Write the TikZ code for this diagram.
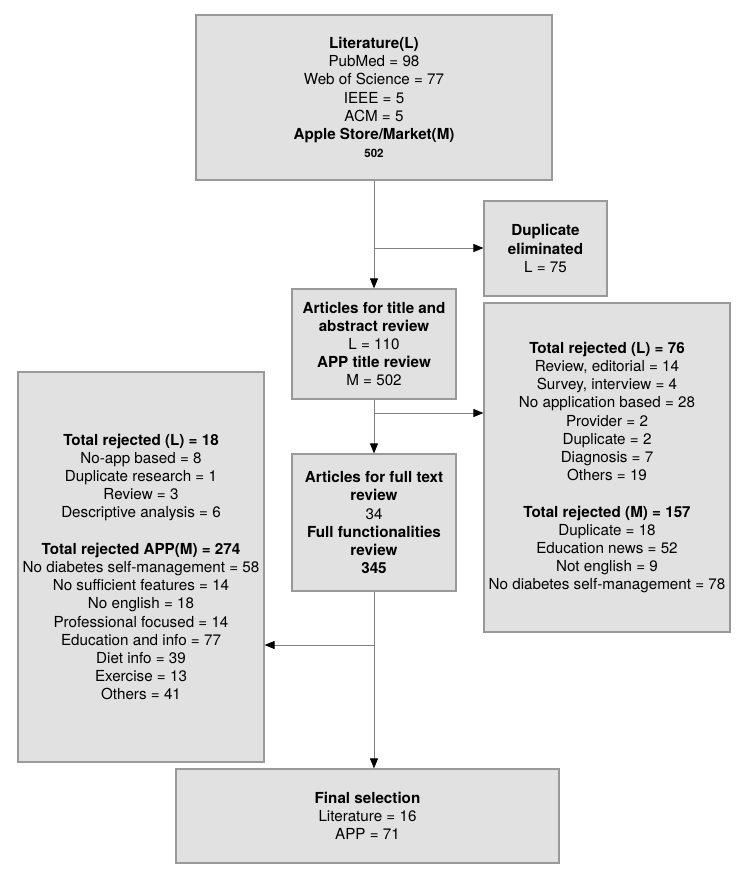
\documentclass[tikz,border=0pt]{standalone}
\usepackage{fontspec}
\setmainfont{TeX Gyre Heros}
\usetikzlibrary{arrows.meta}
\definecolor{boxfill}{HTML}{E1E1E1}
\definecolor{boxline}{HTML}{999999}
\definecolor{conline}{HTML}{808080}
\begin{document}
\begin{tikzpicture}[x=1pt,y=-1pt,
  box/.style={draw=boxline, fill=boxfill, line width=1.2pt, inner sep=0pt, align=center,
    font=\fontsize{15.2}{18.2}\selectfont, anchor=center},
  con/.style={draw=conline, line width=0.9pt, -{Triangle[length=10pt,width=8pt,color=black]}}]
\useasboundingbox (0,0) rectangle (748,880);
\node[box, minimum width=356pt, minimum height=165pt] (top) at (374,97.5)
  {\textbf{Literature(L)}\\PubMed = 98\\Web of Science = 77\\IEEE = 5\\ACM = 5\\\textbf{Apple Store/Market(M)}\\{\fontsize{11.5}{14}\selectfont\textbf{502}}};
\node[box, minimum width=123pt, minimum height=95pt] (dup) at (545.5,248.5)
  {\textbf{Duplicate}\\\textbf{eliminated}\\L = 75};
\node[box, minimum width=164pt, minimum height=110pt] (art) at (374,344)
  {\textbf{Articles for title and}\\\textbf{abstract review}\\L = 110\\\textbf{APP title review}\\M = 502};
\node[box, minimum width=246pt, minimum height=329pt] (rejR) at (607,467.5)
  {\textbf{Total rejected (L) = 76}\\Review, editorial = 14\\Survey, interview = 4\\No application based = 28\\Provider = 2\\Duplicate = 2\\Diagnosis = 7\\Others = 19\\[18.2pt]\textbf{Total rejected (M) = 157}\\Duplicate = 18\\Education news = 52\\Not english = 9\\No diabetes self-management = 78};
\node[box, minimum width=164pt, minimum height=137pt] (full) at (374,522.5)
  {\textbf{Articles for full text}\\\textbf{review}\\34\\\textbf{Full functionalities}\\\textbf{review}\\\textbf{345}};
\node[box, minimum width=246pt, minimum height=390pt] (rejL) at (141,567)
  {\textbf{Total rejected (L) = 18}\\No-app based = 8\\Duplicate research = 1\\Review = 3\\Descriptive analysis = 6\\[18.2pt]\textbf{Total rejected APP(M) = 274}\\No diabetes self-management = 58\\No sufficient features = 14\\No english = 18\\Professional focused = 14\\Education and info = 77\\Diet info = 39\\Exercise = 13\\Others = 41};
\node[box, minimum width=383pt, minimum height=94pt] (final) at (367.5,816)
  {\textbf{Final selection}\\Literature = 16\\APP = 71};
\coordinate (b1) at (374,248);
\coordinate (b2) at (374,413);
\coordinate (b3) at (374,645);
\draw[con] (top.south) -- (art.north);
\draw[con] (b1) -- (b1 -| dup.west);
\draw[con] (art.south) -- (full.north);
\draw[con] (b2) -- (b2 -| rejR.west);
\draw[con] (full.south -| b3) -- (b3 |- final.north);
\draw[con] (b3) -- (b3 -| rejL.east);
\end{tikzpicture}
\end{document}
